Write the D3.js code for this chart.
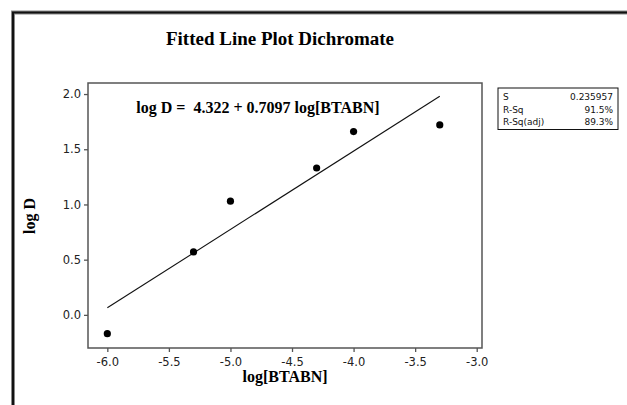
<!DOCTYPE html>
<html lang="en">
<head>
<meta charset="utf-8">
<title>Fitted Line Plot Dichromate</title>
<script src="https://cdn.jsdelivr.net/npm/d3@7"></script>
<style>
  body { margin: 0; background: #fff; }
  .tick text { font-family: "DejaVu Sans", sans-serif; font-size: 11.5px; fill: #222; }
  .serifb { font-family: "Liberation Serif", "Times New Roman", serif; font-weight: bold; }
  .stat { font-family: "DejaVu Sans", sans-serif; font-size: 9px; fill: #111; }
</style>
</head>
<body>
<script>
// data
var logBTABN = [-6.0, -5.3, -5.0, -4.3, -4.0, -3.3];
var logD = [-0.17, 0.57, 1.03, 1.33, 1.66, 1.72];
var fitCoef = [4.322, 0.7097];          // intercept, slope
var fitRange = [-6.0, -3.3];
var xTicks = [-6.0, -5.5, -5.0, -4.5, -4.0, -3.5, -3.0];
var yTicks = [0.0, 0.5, 1.0, 1.5, 2.0];
var statNames = ["S", "R-Sq", "R-Sq(adj)"];
var statValues = ["0.235957", "91.5%", "89.3%"];

var w = 627, h = 405;
var pLeft = 88, pRight = 482, pTop = 83, pBottom = 348;

var svg = d3.select("body").append("svg")
  .attr("width", w)
  .attr("height", h);

// outer frame (runs off the page on right and bottom)
svg.append("rect")
  .attr("x", 13).attr("y", 12.5)
  .attr("width", 700).attr("height", 500)
  .attr("fill", "none")
  .attr("stroke", "#888").attr("stroke-width", 4);
svg.append("rect")
  .attr("x", 13).attr("y", 12.5)
  .attr("width", 700).attr("height", 500)
  .attr("fill", "none")
  .attr("stroke", "#111").attr("stroke-width", 2);

var x = d3.scaleLinear().domain([-6.157, -2.957]).range([pLeft, pRight]);
var y = d3.scaleLinear().domain([-0.3, 2.1]).range([pBottom, pTop]);

// plot box
svg.append("rect")
  .attr("x", pLeft).attr("y", pTop)
  .attr("width", pRight - pLeft).attr("height", pBottom - pTop)
  .attr("fill", "none")
  .attr("stroke", "#555").attr("stroke-width", 1.5);

var fmt = function(d) { return d3.format(".1f")(d).replace("\u2212", "-"); };

svg.append("g")
  .attr("transform", "translate(0," + pBottom + ")")
  .call(d3.axisBottom(x).tickValues(xTicks).tickFormat(fmt).tickSize(4).tickPadding(6));
svg.append("g")
  .attr("transform", "translate(" + pLeft + ",0)")
  .call(d3.axisLeft(y).tickValues(yTicks).tickFormat(fmt).tickSize(4).tickPadding(3));
svg.selectAll(".domain").remove();
svg.selectAll(".tick line").attr("stroke", "#555").attr("stroke-width", 1.3);

// fitted line
var line = d3.line()
  .x(function(d) { return x(d); })
  .y(function(d) { return y(fitCoef[0] + fitCoef[1] * d); });
svg.append("path")
  .datum(fitRange)
  .attr("d", line)
  .attr("fill", "none")
  .attr("stroke", "#111")
  .attr("stroke-width", 1.1);

// points
svg.selectAll("circle.pt")
  .data(logBTABN)
  .enter()
  .append("circle")
  .attr("class", "pt")
  .attr("cx", function(d) { return x(d); })
  .attr("cy", function(d, i) { return y(logD[i]); })
  .attr("r", 3.6)
  .attr("fill", "#000");

// texts
svg.append("text").attr("class", "serifb")
  .attr("x", 280).attr("y", 45)
  .attr("text-anchor", "middle")
  .style("font-size", "19px")
  .text("Fitted Line Plot Dichromate");

svg.append("text").attr("class", "serifb")
  .attr("x", 258).attr("y", 113)
  .attr("text-anchor", "middle")
  .style("font-size", "16px")
  .style("white-space", "pre")
  .text("log D =  4.322 + 0.7097 log[BTABN]");

svg.append("text").attr("class", "serifb")
  .attr("x", 285).attr("y", 382)
  .attr("text-anchor", "middle")
  .style("font-size", "16px")
  .text("log[BTABN]");

svg.append("text").attr("class", "serifb")
  .attr("transform", "translate(35,216) rotate(-90)")
  .attr("text-anchor", "middle")
  .style("font-size", "16px")
  .text("log D");

// stats box
var bx = 498, by = 88, bw = 120, rowH = 12.5;
svg.append("rect")
  .attr("x", bx).attr("y", by)
  .attr("width", bw).attr("height", rowH * statNames.length + 4)
  .attr("fill", "none").attr("stroke", "#111").attr("stroke-width", 1);
svg.selectAll("text.sn").data(statNames).enter().append("text")
  .attr("class", "stat sn")
  .attr("x", bx + 5)
  .attr("y", function(d, i) { return by + 12 + i * rowH; })
  .text(function(d) { return d; });
svg.selectAll("text.sv").data(statValues).enter().append("text")
  .attr("class", "stat sv")
  .attr("x", bx + bw - 5)
  .attr("y", function(d, i) { return by + 12 + i * rowH; })
  .attr("text-anchor", "end")
  .text(function(d) { return d; });
</script>
</body>
</html>
